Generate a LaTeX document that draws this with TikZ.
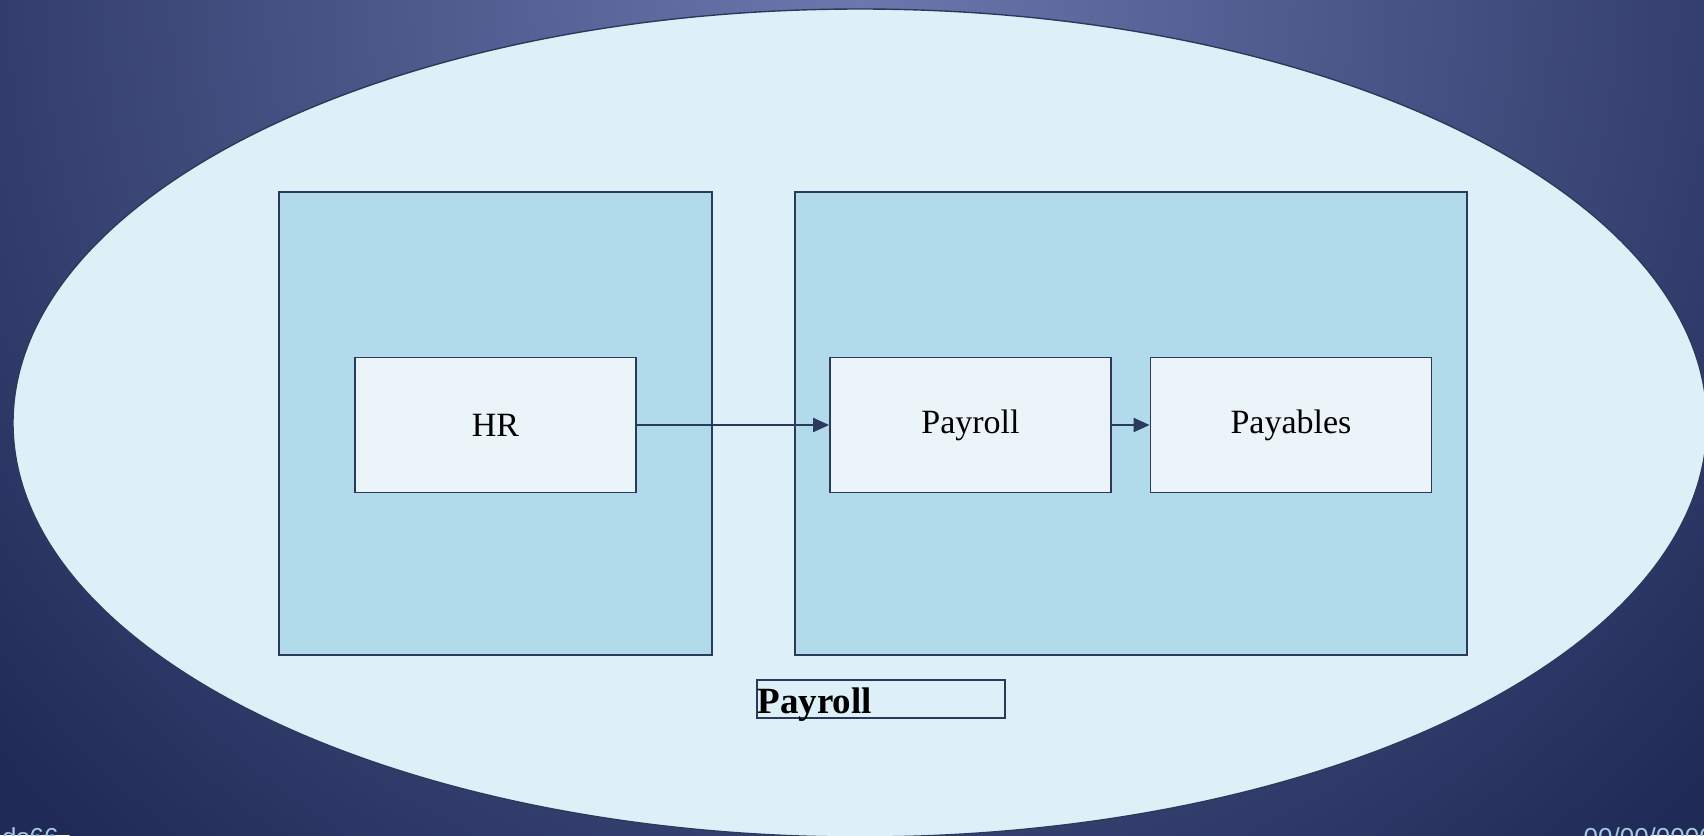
\documentclass[tikz,border=0pt]{standalone}
\usepackage{fontspec}
\setmainfont{Liberation Serif}
\newfontfamily\footfont{Liberation Sans}
\usetikzlibrary{arrows.meta,shapes.geometric}
\definecolor{bglight}{HTML}{6B78AE}
\definecolor{bgdark}{HTML}{1F2A56}
\definecolor{ellfill}{HTML}{DDEFF7}
\definecolor{linec}{HTML}{2B3A5C}
\definecolor{panelfill}{HTML}{B1DBEB}
\definecolor{boxfill}{HTML}{EBF5F9}
\definecolor{foottxt}{HTML}{A8C8E0}
\tikzset{
  panel/.style={draw=linec, line width=1.8pt, fill=panelfill, rectangle, inner sep=0pt},
  procbox/.style={draw=linec, line width=1.8pt, fill=boxfill, rectangle, inner sep=0pt,
    minimum width=281pt, minimum height=135pt, font=\fontsize{34}{40}\selectfont},
  flow/.style={draw=linec, line width=2pt, -{Triangle[length=16pt,width=14pt]}},
  foot/.style={text=foottxt, font=\footfont\fontsize{26}{30}\selectfont, inner sep=0pt}
}
\begin{document}
\begin{tikzpicture}[x=1pt,y=-1pt]
\useasboundingbox (0,0) rectangle (1704,835);
\begin{scope}
\clip (0,0) rectangle (1704,835);
\fill[bgdark] (0,0) rectangle (1704,835);
\shade[inner color=bglight, outer color=bgdark] (860,0) circle (1150);
\node[foot, anchor=north west] (footl) at (2,827) {ds66};
\node[foot, anchor=north east] (footr) at (1714,827) {00/00/0000};
\node[draw=linec, line width=1.4pt, fill=ellfill, ellipse, minimum width=1694pt, minimum height=828pt, inner sep=0pt] (ell) at (860,423) {};
\end{scope}
\node[panel, minimum width=433pt, minimum height=463pt] (pl) at (495.5,423.5) {};
\node[panel, minimum width=672pt, minimum height=463pt] (pr) at (1131,423.5) {};
\node[procbox] (hr) at (495.5,425) {HR};
\node[procbox] (pay) at (970.5,425) {Payroll};
\node[procbox] (pbl) at (1291,425) {Payables};
\draw[flow] (hr) -- (pay);
\draw[flow] (pay) -- (pbl);
\node[draw=linec, line width=1.6pt, rectangle, minimum width=248pt, minimum height=38pt, inner sep=0pt] (lbl) at (881,699) {};
\node[anchor=west, inner sep=0pt, font=\bfseries\fontsize{37}{40}\selectfont] (lbltxt) at ([xshift=1pt,yshift=-6pt]lbl.west) {Payroll};
\end{tikzpicture}
\end{document}
